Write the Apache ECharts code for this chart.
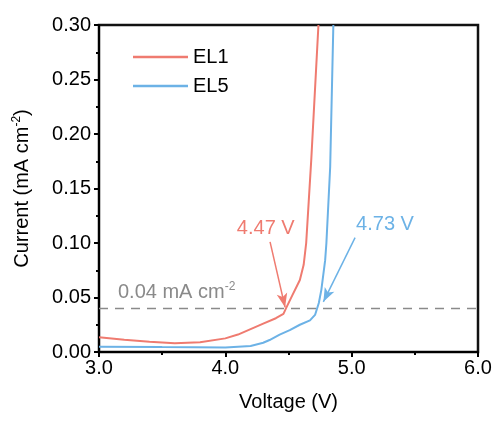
<!DOCTYPE html>
<html>
<head>
<meta charset="utf-8">
<script src="https://cdn.jsdelivr.net/npm/echarts@6/dist/echarts.min.js"></script>
<style>
  html, body { margin: 0; padding: 0; background: #fff; }
  #main { width: 499px; height: 426px; }
</style>
</head>
<body>
<div id="main"></div>
<script>
// EL1 (red) and EL5 (blue) current vs voltage
var el1Volt = [3.0, 3.2, 3.4, 3.6, 3.8, 4.0, 4.1, 4.2, 4.3, 4.4, 4.46, 4.48, 4.53, 4.59, 4.62, 4.64, 4.66, 4.68, 4.737];
var el1Curr = [0.0135, 0.0112, 0.0093, 0.0080, 0.0090, 0.0125, 0.016, 0.021, 0.026, 0.031, 0.035, 0.040, 0.052, 0.066, 0.080, 0.100, 0.138, 0.176, 0.300];
var el5Volt = [3.0, 3.5, 4.0, 4.2, 4.3, 4.35, 4.43, 4.51, 4.59, 4.67, 4.71, 4.74, 4.76, 4.79, 4.80, 4.83, 4.855];
var el5Curr = [0.0049, 0.0045, 0.0042, 0.0055, 0.0085, 0.011, 0.016, 0.020, 0.025, 0.029, 0.034, 0.045, 0.057, 0.084, 0.100, 0.170, 0.300];
var xTicks = [3.0, 4.0, 5.0, 6.0];
var yTicks = [0.00, 0.05, 0.10, 0.15, 0.20, 0.25, 0.30];
var threshold = 0.04;

var red = '#EF7B70';
var blue = '#6CB2E6';
var grey = '#8A8A8A';
var font = 'Arial, "Liberation Sans", sans-serif';

var xMin = xTicks[0], xMax = xTicks[xTicks.length - 1];
var yMin = yTicks[0], yMax = yTicks[yTicks.length - 1];

function pairs(xs, ys) {
    var out = [];
    for (var i = 0; i < xs.length; i++) out.push([xs[i], ys[i]]);
    return out;
}

var myChart = echarts.init(document.getElementById('main'));
var option = {
    animation: false,
    textStyle: { fontFamily: font },
    // grid border gives the top / right frame
    grid: {
        left: 99, top: 25, right: 21, bottom: 74,
        show: true, borderColor: '#111111', borderWidth: 2.5
    },
    legend: {
        left: 128, top: 42,
        orient: 'vertical',
        icon: 'rect',
        itemWidth: 55, itemHeight: 2.5, itemGap: 9,
        textStyle: { fontSize: 20, color: '#000', fontFamily: font, padding: [3, 0, 0, 0] },
        data: ['EL1', 'EL5']
    },
    xAxis: {
        type: 'value',
        min: xMin, max: xMax, interval: 1,
        name: 'Voltage (V)', nameLocation: 'middle', nameGap: 40,
        nameTextStyle: { fontSize: 20, color: '#000', fontFamily: font },
        axisLine: { onZero: false, lineStyle: { color: '#000', width: 2 } },
        axisTick: { length: 5, lineStyle: { color: '#000', width: 2 } },
        minorTick: { show: true, splitNumber: 2, length: 3, lineStyle: { color: '#000', width: 2 } },
        axisLabel: { fontSize: 20, color: '#000', margin: 6, formatter: function (v) { return v.toFixed(1); } },
        splitLine: { show: false }
    },
    yAxis: {
        type: 'value',
        min: yMin, max: yMax, interval: 0.05,
        name: 'Current (mA cm{sup|-2})', nameLocation: 'middle', nameGap: 66,
        nameTextStyle: {
            fontSize: 20, color: '#000', fontFamily: font,
            rich: { sup: { fontSize: 12, verticalAlign: 'top', padding: [0, 0, 10, 0], color: '#000' } }
        },
        axisLine: { onZero: false, lineStyle: { color: '#000', width: 2 } },
        axisTick: { length: 5, lineStyle: { color: '#000', width: 2 } },
        minorTick: { show: true, splitNumber: 2, length: 3, lineStyle: { color: '#000', width: 2 } },
        axisLabel: { fontSize: 20, color: '#000', margin: 8, formatter: function (v) { return v.toFixed(2); } },
        splitLine: { show: false }
    },
    series: [
        {
            name: 'EL1', type: 'line', symbol: 'none',
            lineStyle: { color: red, width: 2 }, itemStyle: { color: red },
            data: pairs(el1Volt, el1Curr),
            markPoint: {
                symbol: 'circle', symbolSize: 0, silent: true,
                label: { show: true, position: 'inside', color: red, fontSize: 20, fontFamily: font, formatter: '4.47 V' },
                data: [{ coord: [4.32, 0.113] }]
            },
            markLine: {
                silent: true, symbol: ['none', 'arrow'], symbolSize: [8, 14],
                lineStyle: { color: red, width: 1.5, type: 'solid' },
                label: { show: false },
                data: [[{ coord: [4.354, 0.101] }, { coord: [4.473, 0.041] }]]
            }
        },
        {
            name: 'EL5', type: 'line', symbol: 'none',
            lineStyle: { color: blue, width: 2 }, itemStyle: { color: blue },
            data: pairs(el5Volt, el5Curr),
            markPoint: {
                symbol: 'circle', symbolSize: 0, silent: true,
                label: { show: true, position: 'inside', color: blue, fontSize: 20, fontFamily: font, formatter: '4.73 V' },
                data: [{ coord: [5.264, 0.117] }]
            },
            markLine: {
                silent: true, symbol: ['none', 'arrow'], symbolSize: [8, 14],
                lineStyle: { color: blue, width: 1.5, type: 'solid' },
                label: { show: false },
                data: [[{ coord: [5.027, 0.105] }, { coord: [4.776, 0.046] }]]
            }
        },
        {
            name: 'threshold', type: 'line', symbol: 'none',
            lineStyle: { color: grey, width: 1.5, type: [9, 7] },
            data: [[xMin, threshold], [xMax, threshold]],
            markPoint: {
                symbol: 'circle', symbolSize: 0, silent: true,
                label: {
                    show: true, position: 'right', distance: 0, color: grey, fontSize: 20, fontFamily: font,
                    formatter: '0.04 mA cm{sup|-2}',
                    rich: { sup: { fontSize: 12, color: grey, verticalAlign: 'top', padding: [0, 0, 10, 0] } }
                },
                data: [{ coord: [3.15, 0.055] }]
            }
        }
    ]
};
myChart.setOption(option);
</script>
</body>
</html>
